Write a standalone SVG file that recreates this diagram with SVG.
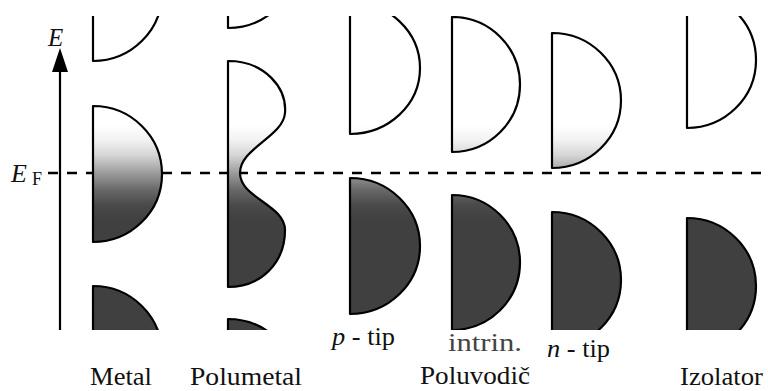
<svg xmlns="http://www.w3.org/2000/svg" width="768" height="391" viewBox="0 0 768 391">
<style>
.band{stroke:#000;stroke-width:2.2;fill:url(#fd);stroke-linejoin:round}
.serif{font-family:"Liberation Serif","Times New Roman",serif;fill:#111}
.it{font-style:italic}
</style>
<defs>
<linearGradient id="fd" gradientUnits="userSpaceOnUse" x1="0" y1="125" x2="0" y2="220">
<stop offset="0" stop-color="#ffffff"/>
<stop offset="0.158" stop-color="#f2f2f2"/>
<stop offset="0.316" stop-color="#d6d6d6"/>
<stop offset="0.505" stop-color="#9c9c9c"/>
<stop offset="0.684" stop-color="#686868"/>
<stop offset="0.842" stop-color="#4a4a4a"/>
<stop offset="1" stop-color="#404040"/>
</linearGradient>
<clipPath id="clip"><rect x="0" y="16" width="768" height="314"/></clipPath>
</defs>
<rect width="768" height="391" fill="#fff"/>
<g id="connectors">
<line x1="48" y1="173" x2="768" y2="173" stroke="#000" stroke-width="2.5" stroke-dasharray="10 9"/>
<line x1="60" y1="330" x2="60" y2="68" stroke="#000" stroke-width="2.2"/>
<polygon points="60,48 52,72 68,72" fill="#000"/>
</g>
<g id="axis-labels">
<text x="48" y="46" class="serif it" style="font-size:25px">E</text>
<text x="11" y="182" class="serif it" style="font-size:26px">E</text>
<text x="32" y="185" class="serif" style="font-size:18px">F</text>
</g>
<g clip-path="url(#clip)">
<g id="metal">
<path class="band" d="M93,-75 A69,68 0 0 1 93,61 Z"/>
<path class="band" d="M93,106 A69,68 0 0 1 93,242 Z"/>
<path class="band" d="M93,286 A69,68 0 0 1 93,422 Z"/>
</g>
<g id="polumetal">
<path class="band" d="M228,-108 A69,68 0 0 1 228,28 Z"/>
<path class="band" d="M228,61 C265,61 287,88 285,113 C283,137 240,148 240,173 C240,198 285,205 285,230 C285,262 262,287 228,287 Z"/>
<path class="band" d="M228,319 A69,68 0 0 1 228,455 Z"/>
</g>
<g id="p-tip">
<path class="band" d="M350,2 A70,66 0 0 1 350,134 Z"/>
<path class="band" d="M350,178 A70,68 0 0 1 350,314 Z"/>
</g>
<g id="intrin">
<path class="band" d="M452,17 A68,67.5 0 0 1 452,152 Z"/>
<path class="band" d="M452,195 A68,67.5 0 0 1 452,330 Z"/>
</g>
<g id="n-tip">
<path class="band" d="M552,33 A69,67.5 0 0 1 552,168 Z"/>
<path class="band" d="M552,212 A69,68 0 0 1 552,348 Z"/>
</g>
<g id="izolator">
<path class="band" d="M687,-8 A69,68 0 0 1 687,128 Z"/>
<path class="band" d="M687,218 A69,68 0 0 1 687,354 Z"/>
</g>
</g>
<g id="labels">
<text class="serif" style="font-size:26px" x="90" y="385" textLength="62" lengthAdjust="spacingAndGlyphs">Metal</text>
<text class="serif" style="font-size:26px" x="190" y="385" textLength="112" lengthAdjust="spacingAndGlyphs">Polumetal</text>
<text class="serif" style="font-size:25px" x="420" y="384" textLength="110" lengthAdjust="spacingAndGlyphs">Poluvodič</text>
<text class="serif" style="font-size:26px" x="680" y="385" textLength="83" lengthAdjust="spacingAndGlyphs">Izolator</text>
<text class="serif" style="font-size:25px" x="332" y="345" textLength="63" lengthAdjust="spacingAndGlyphs"><tspan class="it">p</tspan> - tip</text>
<text class="serif" style="font-size:25px;fill:#444" x="448" y="351" textLength="74" lengthAdjust="spacingAndGlyphs">intrin.</text>
<text class="serif" style="font-size:25px" x="547" y="357" textLength="63" lengthAdjust="spacingAndGlyphs"><tspan class="it">n</tspan> - tip</text>
</g>
</svg>
